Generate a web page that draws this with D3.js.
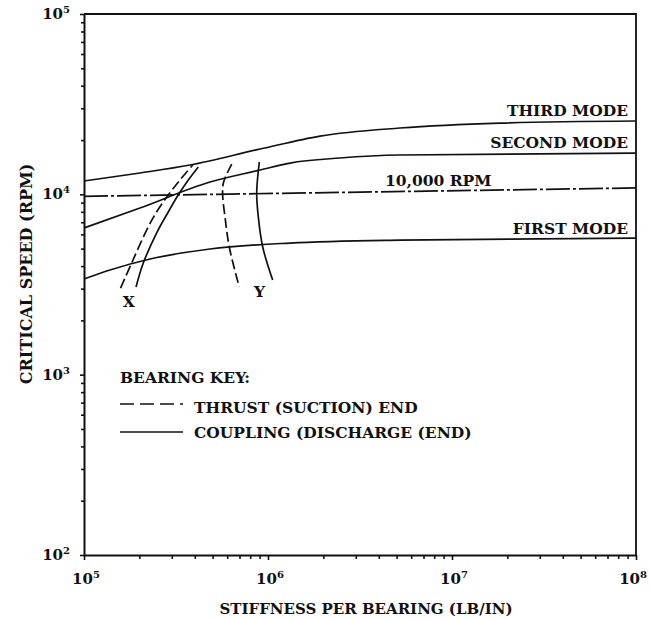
<!DOCTYPE html>
<html>
<head>
<meta charset="utf-8">
<script src="https://cdn.jsdelivr.net/npm/d3@7"></script>
<style>
  body { margin: 0; background: #fff; }
  text { font-family: "DejaVu Serif", serif; fill: #111; font-weight: bold; }
</style>
</head>
<body>
<div id="content"></div>
<script>
// Values: stiffness (lb/in) against critical speed (rpm).
var firstModeX  = [1e5, 1.384e5, 2.285e5, 4.84e5, 1.317e6, 5.2e6, 1e8];
var firstModeY  = [3390, 3803, 4377, 4974, 5370, 5578, 5722];
var secondModeX = [1e5, 2.015e5, 4.84e5, 9.06e5, 1.317e6, 2.46e6, 5.2e6, 1e8];
var secondModeY = [6504, 8395, 11700, 13640, 14910, 15900, 16520, 16940];
var thirdModeX  = [1e5, 2.015e5, 3.77e5, 9.06e5, 1.92e6, 5.2e6, 1.82e7, 1e8];
var thirdModeY  = [11860, 13130, 14540, 17830, 21050, 23320, 24840, 25500];
var rpmLineX = [1e5, 1e8];
var rpmLineY = [9750, 10850];

// bearing curves X and Y (thrust = dashed, coupling = solid)
var thrustXx   = [1.58e5, 1.816e5, 2.19e5, 2.48e5, 2.87e5, 3.32e5, 3.90e5];
var thrustXy   = [3022, 4159, 6339, 7980, 9910, 12000, 14540];
var couplingXx = [1.917e5, 2.10e5, 2.48e5, 2.87e5, 3.25e5, 3.69e5, 4.18e5];
var couplingXy = [3061, 4159, 6100, 7980, 9910, 12000, 14170];
var thrustYx   = [6.35e5, 5.72e5, 5.67e5, 5.84e5, 6.16e5, 6.98e5];
var thrustYy   = [14720, 11560, 9910, 7482, 5103, 3061];
var couplingYx = [8.97e5, 8.68e5, 8.86e5, 9.36e5, 1.06e6];
var couplingYy = [15110, 10170, 7482, 5103, 3347];

var xDecades = [5, 6, 7, 8];
var yDecades = [2, 3, 4, 5];

var width = 650, height = 620;
var margin = {top: 14, right: 14, bottom: 65, left: 84};

var svg = d3.select('#content').append('svg')
    .attr('width', width)
    .attr('height', height);

var x = d3.scaleLog().domain([1e5, 1e8]).range([margin.left, width - margin.right]);
var y = d3.scaleLog().domain([1e2, 1e5]).range([height - margin.bottom, margin.top]);

function isMajor(v) {
    var l = Math.log10(v);
    return Math.abs(l - Math.round(l)) < 1e-9;
}

// left axis with outward ticks
var yAxis = d3.axisLeft(y).tickValues(y.ticks()).tickFormat('')
    .tickSizeInner(4).tickSizeOuter(0);
var gy = svg.append('g').attr('transform', 'translate(' + margin.left + ',0)').call(yAxis);
gy.selectAll('.tick line').attr('x2', function(d) { return isMajor(d) ? -4 : -3; });

var xAxis = d3.axisBottom(x).tickValues(x.ticks()).tickFormat('')
    .tickSizeInner(4).tickSizeOuter(0);
var gx = svg.append('g').attr('transform', 'translate(0,' + (height - margin.bottom) + ')').call(xAxis);
gx.selectAll('.tick line').attr('y2', function(d) { return isMajor(d) ? 5 : 4; });

svg.selectAll('.domain').attr('stroke', '#111').attr('stroke-width', 2);
svg.selectAll('.tick line').attr('stroke', '#111').attr('stroke-width', 1.6);

// top and right frame
svg.append('path')
    .attr('d', 'M' + x(1e5) + ',' + y(1e5) + 'H' + x(1e8) + 'V' + y(1e2))
    .attr('fill', 'none').attr('stroke', '#111').attr('stroke-width', 1.8);

// decade labels with superscripts
function powerLabel(g, p) {
    var t = g.append('text').attr('font-size', 15);
    t.append('tspan').text('10');
    t.append('tspan').text(p).attr('font-size', 10).attr('dy', -6);
    return t;
}
yDecades.forEach(function(p) {
    powerLabel(svg, p).attr('x', margin.left - 14).attr('y', y(Math.pow(10, p)) + 5)
        .attr('text-anchor', 'end');
});
xDecades.forEach(function(p, i) {
    var shift = i === xDecades.length - 1 ? -2 : 2;
    powerLabel(svg, p).attr('x', x(Math.pow(10, p)) + shift).attr('y', height - margin.bottom + 29)
        .attr('text-anchor', i === xDecades.length - 1 ? 'end' : 'middle')
        .attr('dx', i === xDecades.length - 1 ? 13 : 0);
});

// axis titles
svg.append('text')
    .attr('x', 366).attr('y', 614)
    .attr('text-anchor', 'middle').attr('font-size', 15)
    .text('STIFFNESS PER BEARING (LB/IN)');
svg.append('text')
    .attr('transform', 'translate(32,274) rotate(-90)')
    .attr('text-anchor', 'middle').attr('font-size', 16)
    .text('CRITICAL SPEED (RPM)');

function pts(xs, ys) { return xs.map(function(v, i) { return [v, ys[i]]; }); }

var modeLine = d3.line().x(function(d) { return x(d[0]); }).y(function(d) { return y(d[1]); })
    .curve(d3.curveMonotoneX);
var bearingLine = d3.line().x(function(d) { return x(d[0]); }).y(function(d) { return y(d[1]); })
    .curve(d3.curveCatmullRom.alpha(0.5));

var plot = svg.append('g').attr('fill', 'none').attr('stroke', '#111').attr('stroke-width', 1.7);

[[firstModeX, firstModeY], [secondModeX, secondModeY], [thirdModeX, thirdModeY]].forEach(function(s) {
    plot.append('path').attr('d', modeLine(pts(s[0], s[1])));
});
plot.append('path').attr('d', modeLine(pts(rpmLineX, rpmLineY)))
    .attr('stroke-dasharray', '24,3,3,3');

plot.append('path').attr('d', bearingLine(pts(thrustXx, thrustXy))).attr('stroke-dasharray', '10,4');
plot.append('path').attr('d', bearingLine(pts(couplingXx, couplingXy)));
plot.append('path').attr('d', bearingLine(pts(thrustYx, thrustYy))).attr('stroke-dasharray', '10,4');
plot.append('path').attr('d', bearingLine(pts(couplingYx, couplingYy)));

// curve labels
var fs = 15.5;
svg.append('text').attr('x', x(1e8) - 8).attr('y', y(25500) - 5).attr('text-anchor', 'end')
    .attr('font-size', fs).text('THIRD MODE');
svg.append('text').attr('x', x(1e8) - 8).attr('y', y(16940) - 5).attr('text-anchor', 'end')
    .attr('font-size', fs).text('SECOND MODE');
svg.append('text').attr('x', x(4.32e6)).attr('y', y(10500) - 5)
    .attr('font-size', fs).text('10,000 RPM');
svg.append('text').attr('x', x(1e8) - 8).attr('y', y(5722) - 4).attr('text-anchor', 'end')
    .attr('font-size', fs).text('FIRST MODE');
svg.append('text').attr('x', x(1.75e5)).attr('y', y(3022) + 19).attr('text-anchor', 'middle')
    .attr('font-size', fs).text('X');
svg.append('text').attr('x', x(9.0e5)).attr('y', y(3061) + 10).attr('text-anchor', 'middle')
    .attr('font-size', fs).text('Y');

// bearing key
var key = svg.append('g');
key.append('text').attr('x', 120).attr('y', 383).attr('font-size', fs).text('BEARING KEY:');
key.append('line').attr('x1', 120).attr('x2', 183).attr('y1', 404).attr('y2', 404)
    .attr('stroke', '#111').attr('stroke-width', 1.7).attr('stroke-dasharray', '14,6');
key.append('text').attr('x', 194).attr('y', 413).attr('font-size', fs).text('THRUST (SUCTION) END');
key.append('line').attr('x1', 120).attr('x2', 183).attr('y1', 432).attr('y2', 432)
    .attr('stroke', '#111').attr('stroke-width', 1.7);
key.append('text').attr('x', 194).attr('y', 438).attr('font-size', fs).text('COUPLING (DISCHARGE (END)');
</script>
</body>
</html>
